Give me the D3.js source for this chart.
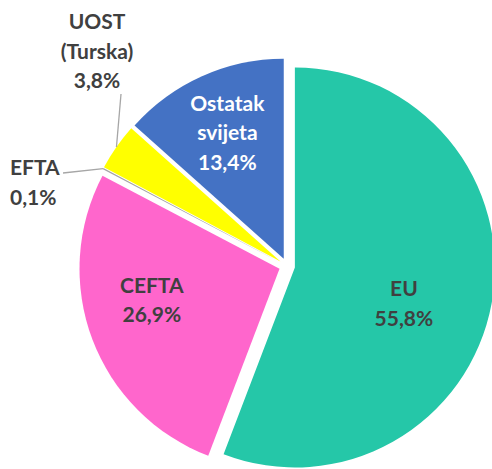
<!DOCTYPE html>
<html>
<head>
<meta charset="utf-8">
<script src="https://cdn.jsdelivr.net/npm/d3@7"></script>
<style>
  body { margin: 0; background: #fff; }
  text { font-family: Lato, "Open Sans", sans-serif; font-weight: bold; }
</style>
</head>
<body>
<script>
// share of trade by partner group
var categories = ["EU", "CEFTA", "EFTA", "UOST", "Ostatak"];
var labelLines = [["EU"], ["CEFTA"], ["EFTA"], ["UOST", "(Turska)"], ["Ostatak", "svijeta"]];
var values = [55.8, 26.9, 0.1, 3.8, 13.4];
var colors = ["#25C7A8", "#FF66CC", "#A5A5A5", "#FFFF00", "#4472C4"];

var width = 492, height = 469;
var cx = 287, cy = 266, radius = 200, explode = 8;

var svg = d3.select("body").append("svg")
    .attr("width", width)
    .attr("height", height);

var data = categories.map((c, i) => ({name: c, lines: labelLines[i], value: values[i], color: colors[i]}));

var pie = d3.pie().sort(null).value(d => d.value);
var arcs = pie(data);

var arc = d3.arc().innerRadius(0).outerRadius(radius);

var g = svg.append("g").attr("transform", "translate(" + cx + "," + cy + ")");

function shift(d, r) {
    var a = (d.startAngle + d.endAngle) / 2;
    return [Math.sin(a) * r, -Math.cos(a) * r];
}

var fmt = v => v.toFixed(1).replace(".", ",") + "%";

var slices = g.selectAll("g.slice")
    .data(arcs)
    .join("g")
    .attr("class", "slice")
    .attr("transform", d => "translate(" + shift(d, explode) + ")");

slices.append("path")
    .attr("d", arc)
    .attr("fill", d => d.data.color);

// inside labels
var inside = {EU: {r: 118, dy: 15, dx: -7}, CEFTA: {r: 128, dy: -14, dx: -8}, Ostatak: {r: 138, dy: 0, dx: 0}};
var lineH = 29.5;
var fontSize = 21;

slices.filter(d => inside[d.data.name]).each(function(d) {
    var o = inside[d.data.name];
    var p = shift(d, o.r);
    var lines = d.data.lines.concat([fmt(d.data.value)]);
    var t = d3.select(this).append("text")
        .attr("text-anchor", "middle")
        .attr("font-size", fontSize)
        .attr("fill", d.data.name === "Ostatak" ? "#fff" : "#404040");
    lines.forEach((s, i) => {
        t.append("tspan")
            .attr("x", p[0] + o.dx)
            .attr("y", p[1] + o.dy + (i - (lines.length - 1) / 2) * lineH)
            .attr("dy", "0.35em")
            .text(s);
    });
});

// outside labels with leader lines
var outside = {
    UOST: {label: [97, 22], anchor: "middle", line: d => { var p = shift(d, radius); return [p, [p[0] - 2, 94 - cy]]; }},
    EFTA: {label: [10, 168], anchor: "start", line: d => { var p = shift(d, radius); return [p, [63 - cx, 173 - cy]]; }}
};

slices.filter(d => outside[d.data.name]).each(function(d) {
    var o = outside[d.data.name];
    var sh = shift(d, explode);
    var pts = o.line(d);
    d3.select(this).append("path")
        .attr("d", d3.line()([pts[0], [pts[1][0] - sh[0], pts[1][1] - sh[1]]]))
        .attr("stroke", "#A6A6A6")
        .attr("stroke-width", 1.3)
        .attr("fill", "none");
    var lines = d.data.lines.concat([fmt(d.data.value)]);
    var t = svg.append("text")
        .attr("text-anchor", o.anchor)
        .attr("font-size", fontSize)
        .attr("fill", "#404040");
    lines.forEach((s, i) => {
        t.append("tspan")
            .attr("x", o.label[0])
            .attr("y", o.label[1] + i * lineH)
            .attr("dy", "0.35em")
            .text(s);
    });
});
</script>
</body>
</html>
